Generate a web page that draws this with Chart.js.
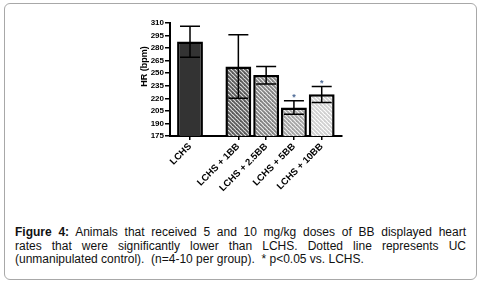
<!DOCTYPE html>
<html>
<head>
<meta charset="utf-8">
<script src="https://cdn.jsdelivr.net/npm/chart.js@4/dist/chart.umd.min.js"></script>
<style>
  html, body { margin: 0; padding: 0; background: #fff; }
  body { width: 481px; height: 282px; position: relative; overflow: hidden; }
  .frame {
    position: absolute; left: 4px; top: 3px; width: 471px; height: 275px;
    border: 1px solid #a8a8a8; border-radius: 6px;
  }
  #wrap { position: absolute; left: 0; top: 0; width: 481px; height: 220px; }
  .caption {
    position: absolute; left: 15px; top: 226px; width: 451px;
    font-family: 'Liberation Sans', Arial, sans-serif; font-size: 12px;
    line-height: 13.5px; color: #111;
  }
  .caption div { text-align: justify; text-align-last: justify; white-space: nowrap; }
  .caption div.last { text-align-last: left; }
</style>
</head>
<body>
<div class="frame"></div>
<div id="wrap"><canvas id="hrChart" width="481" height="220"></canvas></div>
<div class="caption">
  <div><b>Figure 4:</b> Animals that received 5 and 10 mg/kg doses of BB displayed heart</div>
  <div>rates that were significantly lower than LCHS. Dotted line represents UC</div>
  <div class="last">(unmanipulated control).&nbsp; (n=4-10 per group).&nbsp; * p&lt;0.05 vs. LCHS.</div>
</div>
<script>
const groups = ['LCHS', 'LCHS + 1BB', 'LCHS + 2.5BB', 'LCHS + 5BB', 'LCHS + 10BB'];
const hrMean = [288, 258, 248, 209, 225];
const hrErrHigh = [306, 296, 258, 217, 234];
const hrErrLow = [269, 220, 237, 201, 215];
const significant = [false, false, false, true, true];
const yTicks = [175, 190, 205, 220, 235, 250, 265, 280, 295, 310];
const yLabel = 'HR (bpm)';

// the LCHS bar stands apart from the treated groups
const GROUP_GAP = 1.74;
const positions = groups.map((_, i) => i === 0 ? 0 : GROUP_GAP + i - 1);

function hatch(dark, light) {
  const c = document.createElement('canvas');
  c.width = 4; c.height = 4;
  const g = c.getContext('2d');
  g.fillStyle = light;
  g.fillRect(0, 0, 4, 4);
  g.strokeStyle = dark;
  g.lineWidth = 1.8;
  for (let k = -1; k <= 1; k++) {
    g.beginPath();
    g.moveTo(k * 4 - 1, -1);
    g.lineTo(k * 4 + 5, 5);
    g.stroke();
  }
  return g.createPattern(c, 'repeat');
}

const fills = [
  '#333333',
  hatch('#5a5a5a', '#e0e0e0'),
  hatch('#828282', '#efefef'),
  hatch('#a4a4a4', '#f4f4f4'),
  hatch('#d0d0d0', '#ffffff')
];

// error bars, significance stars and the y axis label
const errorBars = {
  id: 'errorBars',
  afterDatasetsDraw(chart) {
    const ctx = chart.ctx;
    const x = chart.scales.x, y = chart.scales.y;
    ctx.save();
    ctx.strokeStyle = '#000';
    ctx.lineWidth = 1.5;
    positions.forEach((p, i) => {
      const px = x.getPixelForValue(p);
      const hi = y.getPixelForValue(hrErrHigh[i]);
      const lo = y.getPixelForValue(hrErrLow[i]);
      ctx.beginPath();
      ctx.moveTo(px, hi); ctx.lineTo(px, lo);
      ctx.moveTo(px - 10, hi); ctx.lineTo(px + 10, hi);
      ctx.moveTo(px - 10, lo); ctx.lineTo(px + 10, lo);
      ctx.stroke();
      if (significant[i]) {
        ctx.fillStyle = '#4d6a96';
        ctx.font = 'bold 9px "Liberation Sans"';
        ctx.textAlign = 'center';
        ctx.textBaseline = 'bottom';
        ctx.fillText('*', px, hi + 1);
      }
    });
    const area = chart.chartArea;
    ctx.translate(area.left - 25, (area.top + area.bottom) / 2 - 13);
    ctx.rotate(-Math.PI / 2);
    ctx.fillStyle = '#000';
    ctx.font = 'bold 9px "Liberation Sans"';
    ctx.textAlign = 'center';
    ctx.textBaseline = 'middle';
    ctx.fillText(yLabel, 0, 0);
    ctx.restore();
  }
};

new Chart(document.getElementById('hrChart'), {
  type: 'bar',
  data: {
    datasets: [{
      data: positions.map((p, i) => ({ x: p, y: hrMean[i] })),
      backgroundColor: fills,
      borderColor: '#000',
      borderWidth: 2.5,
      barPercentage: 0.93,
      categoryPercentage: 1
    }]
  },
  options: {
    responsive: false,
    animation: false,
    layout: { padding: { left: 125, right: 139, top: 23, bottom: 4 } },
    plugins: { legend: { display: false }, tooltip: { enabled: false } },
    scales: {
      x: {
        type: 'linear',
        offset: false,
        min: -0.72,
        max: 5.47,
        afterBuildTicks: (scale) => { scale.ticks = positions.map(v => ({ value: v })); },
        afterFit: (scale) => { scale.height = 80; },
        ticks: {
          autoSkip: false,
          minRotation: 45,
          maxRotation: 45,
          padding: 1,
          color: '#000',
          font: { family: 'Liberation Sans', weight: 'bold', size: 9.5 },
          callback: (v, i) => groups[i]
        },
        grid: { offset: false, drawOnChartArea: false, drawTicks: true, tickLength: 4, color: '#000', lineWidth: 1.5 },
        border: { color: '#000', width: 2 }
      },
      y: {
        min: 175,
        max: 310,
        afterBuildTicks: (scale) => { scale.ticks = yTicks.map(v => ({ value: v })); },
        afterFit: (scale) => { scale.width = 45; },
        ticks: {
          autoSkip: false,
          padding: 1,
          color: '#000',
          font: { family: 'Liberation Sans', weight: 'bold', size: 8 }
        },
        grid: { drawOnChartArea: false, drawTicks: true, tickLength: 5, color: '#000', lineWidth: 1.5 },
        border: { color: '#000', width: 2 }
      }
    }
  },
  plugins: [errorBars]
});
</script>
</body>
</html>
